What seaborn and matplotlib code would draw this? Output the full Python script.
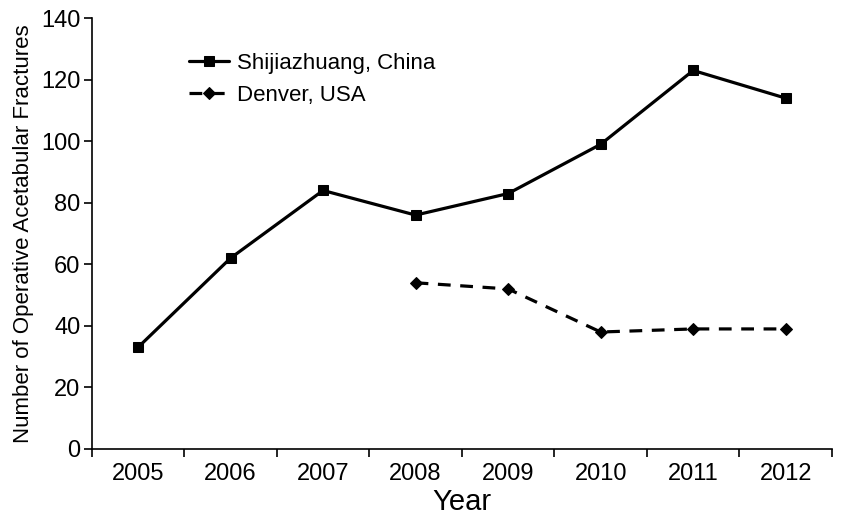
import matplotlib
matplotlib.use("Agg")
import matplotlib.pyplot as plt
import seaborn as sns
import pandas as pd
import numpy as np
from matplotlib.ticker import FixedLocator, NullFormatter, FixedFormatter

years = ["2005", "2006", "2007", "2008", "2009", "2010", "2011", "2012"]
shijiazhuang = [33, 62, 84, 76, 83, 99, 123, 114]
denver_years = ["2008", "2009", "2010", "2011", "2012"]
denver = [54, 52, 38, 39, 39]

sns.set_theme(style="ticks")
plt.rcParams['font.family'] = ['Liberation Sans', 'DejaVu Sans']

pos = {y: i for i, y in enumerate(years)}
df_s = pd.DataFrame({"x": [pos[y] for y in years], "y": shijiazhuang})
df_d = pd.DataFrame({"x": [pos[y] for y in denver_years], "y": denver})

fig = plt.figure(figsize=(8.49, 5.19), dpi=100)
ax = fig.add_axes([0.108, 0.135, 0.872, 0.830])

sns.lineplot(data=df_s, x="x", y="y", ax=ax, color="black", lw=2.3,
             marker="s", markersize=7.5, markeredgecolor="black",
             label="Shijiazhuang, China")
sns.lineplot(data=df_d, x="x", y="y", ax=ax, color="black", lw=2.3,
             linestyle=(0, (4, 3)), marker="D", markersize=6,
             markeredgecolor="black", label="Denver, USA")

ax.set_xlim(-0.5, len(years) - 0.5)
ax.set_ylim(0, 140)
ax.set_yticks(np.arange(0, 141, 20))
ax.xaxis.set_major_locator(FixedLocator(np.arange(-0.5, len(years), 1.0)))
ax.xaxis.set_major_formatter(NullFormatter())
ax.xaxis.set_minor_locator(FixedLocator(np.arange(len(years))))
ax.xaxis.set_minor_formatter(FixedFormatter(years))
ax.tick_params(axis="x", which="major", length=6, width=1.2, direction="out", color="black")
ax.tick_params(axis="x", which="minor", length=0, labelsize=17, pad=10, labelcolor="black")
ax.tick_params(axis="y", length=6, width=1.2, labelsize=17, direction="out", color="black", labelcolor="black", pad=2)

sns.despine(ax=ax)
for s in ["left", "bottom"]:
    ax.spines[s].set_color("black")
    ax.spines[s].set_linewidth(1.2)

ax.set_xlabel("Year", fontsize=21, color="black", labelpad=2)
ax.set_ylabel("Number of Operative Acetabular Fractures", fontsize=16, color="black", labelpad=5)

leg = ax.legend(loc="upper left", bbox_to_anchor=(0.12, 0.94), frameon=False,
                fontsize=16, handlelength=1.8, labelspacing=0.5, handletextpad=0.35,
                borderaxespad=0.0)
for t in leg.get_texts():
    t.set_color("black")

fig.savefig("out.png", dpi=100)
